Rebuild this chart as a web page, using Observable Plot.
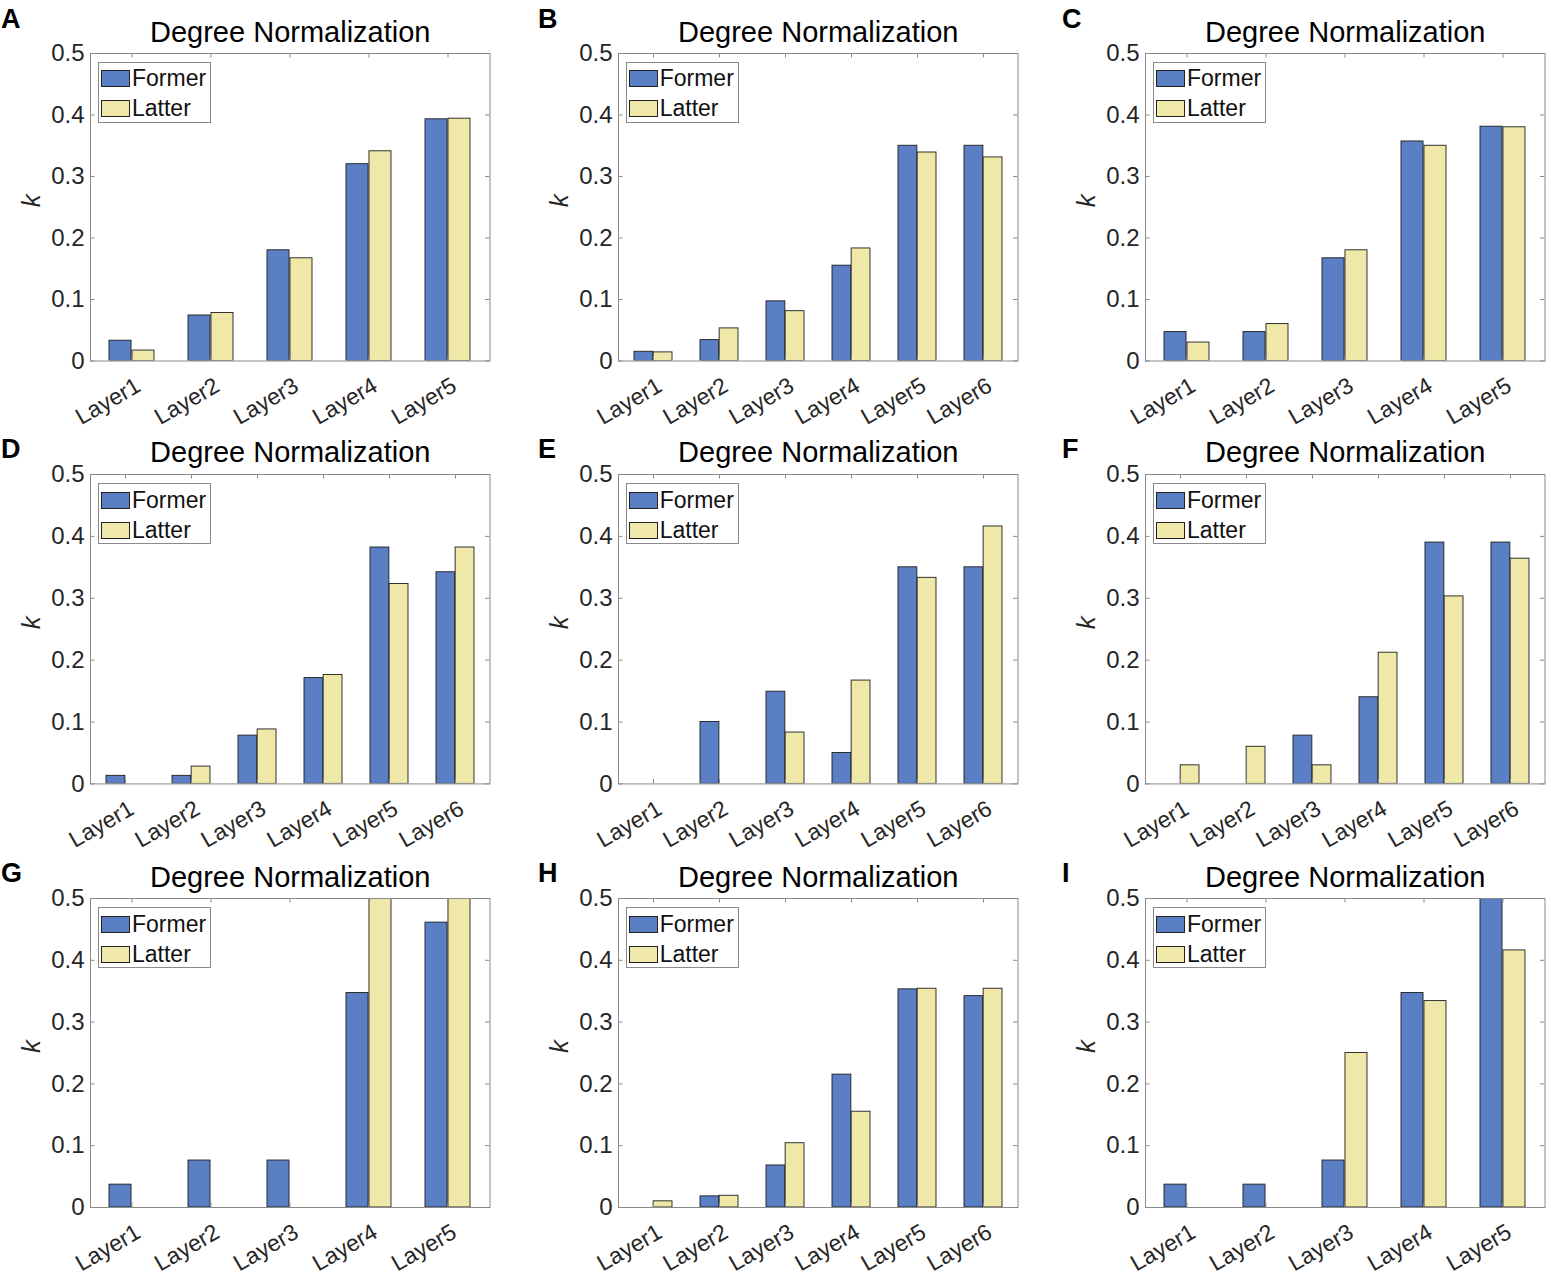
<!DOCTYPE html>
<html>
<head>
<meta charset="utf-8">
<script src="https://cdn.jsdelivr.net/npm/d3@7"></script>
<script src="https://cdn.jsdelivr.net/npm/@observablehq/plot@0.6"></script>
<style>
  html, body { margin: 0; padding: 0; background: #fff; }
  body { font-family: "Liberation Sans", Arial, Helvetica, sans-serif; color: #262626; }
  #root { position: relative; width: 1551px; height: 1280px; overflow: hidden; }
  .panel { position: absolute; }
  .panel svg { max-width: none !important; }
  .letter { position: absolute; font-weight: bold; font-size: 27px; line-height: 1; color: #000; }
  .legend { position: absolute; box-sizing: border-box; border: 1px solid #8a8a8a; background: #fff;
            width: 113px; height: 61px; font-size: 23px; color: #111; }
  .legend .row { position: absolute; left: 2px; display: flex; align-items: center; height: 20px; }
  .legend .sw { width: 29px; height: 17px; box-sizing: border-box; border: 1px solid #222; margin-right: 2px; }
</style>
</head>
<body>
<div id="root"></div>
<script>
// ---- data ----
const panelLetters = ["A", "B", "C", "D", "E", "F", "G", "H", "I"];
const layerNames = ["Layer1", "Layer2", "Layer3", "Layer4", "Layer5", "Layer6"];
const seriesNames = ["Former", "Latter"];
const titleText = "Degree Normalization";
const yLabel = "k";
const yTicks = [0, 0.1, 0.2, 0.3, 0.4, 0.5];

const formerA = [0.033, 0.074, 0.180, 0.320, 0.393];
const latterA = [0.017, 0.078, 0.167, 0.341, 0.394];
const formerB = [0.015, 0.034, 0.097, 0.155, 0.350, 0.350];
const latterB = [0.014, 0.053, 0.081, 0.183, 0.339, 0.331];
const formerC = [0.047, 0.047, 0.167, 0.357, 0.381];
const latterC = [0.030, 0.060, 0.180, 0.350, 0.380];
const formerD = [0.013, 0.013, 0.078, 0.171, 0.382, 0.342];
const latterD = [0, 0.028, 0.088, 0.176, 0.323, 0.382];
const formerE = [0, 0.100, 0.149, 0.050, 0.350, 0.350];
const latterE = [0, 0, 0.083, 0.167, 0.333, 0.416];
const formerF = [0, 0, 0.078, 0.140, 0.390, 0.390];
const latterF = [0.030, 0.060, 0.030, 0.212, 0.303, 0.364];
const formerG = [0.037, 0.076, 0.076, 0.347, 0.461];
const latterG = [0, 0, 0, 0.5, 0.5];
const formerH = [0, 0.018, 0.068, 0.215, 0.353, 0.342];
const latterH = [0.010, 0.019, 0.104, 0.155, 0.354, 0.354];
const formerI = [0.037, 0.037, 0.076, 0.347, 0.5];
const latterI = [0, 0, 0.250, 0.334, 0.416];

const formers = [formerA, formerB, formerC, formerD, formerE, formerF, formerG, formerH, formerI];
const latters = [latterA, latterB, latterC, latterD, latterE, latterF, latterG, latterH, latterI];

// ---- style / layout ----
const colFormer = "#5b7fc4";
const colLatter = "#efe8a8";
const axisGray = "#8a8a8a";
const plotLefts = [90, 617.7, 1145];
const plotTops = [52.7, 474.3, 898.3];
const plotHeights = [307.5, 309.4, 309];
const plotW = 399.5;
const letterLefts = [1, 538, 1062];
const letterTops = [6, 436, 860];
const mL = 75, mR = 5, mT = 52, mB = 68;

const root = document.getElementById("root");

function makePanel(idx) {
  const r = Math.floor(idx / 3), c = idx % 3;
  const former = formers[idx], latter = latters[idx];
  const layers = layerNames.slice(0, former.length);
  const rows = [];
  layers.forEach((l, i) => {
    rows.push({layer: l, series: seriesNames[0], k: former[i]});
    rows.push({layer: l, series: seriesNames[1], k: latter[i]});
  });
  const H = plotHeights[r];
  const step = plotW / layers.length;
  const pIn = 0.425;
  const half = step * (1 - pIn) / 2;
  const tl = 4.5;

  const chart = Plot.plot({
    width: plotW + mL + mR,
    height: H + mT + mB,
    marginLeft: mL, marginRight: mR, marginTop: mT, marginBottom: mB,
    style: {background: "transparent", overflow: "visible", maxWidth: "none",
            fontFamily: "'Liberation Sans', Arial, sans-serif", fontSize: "24px", color: "#262626"},
    x: {type: "band", domain: layers, paddingInner: pIn, paddingOuter: pIn / 2, align: 0.5, axis: null},
    y: {domain: [0, 0.5], ticks: yTicks, tickSize: 0, tickPadding: 6, label: null,
        tickFormat: d => String(+d.toFixed(1))},
    marks: [
      Plot.barY(rows.filter(d => d.series === "Former" && d.k > 0),
        {x: "layer", y: "k", fill: colFormer, stroke: "#1e1e1e", strokeWidth: 0.9, insetRight: half, clip: true}),
      Plot.barY(rows.filter(d => d.series === "Latter" && d.k > 0),
        {x: "layer", y: "k", fill: colLatter, stroke: "#1e1e1e", strokeWidth: 0.9, insetLeft: half, clip: true}),
      Plot.frame({stroke: axisGray, strokeWidth: 1}),
      Plot.tickY(yTicks, {y: d => d, stroke: axisGray, insetRight: plotW - tl}),
      Plot.tickY(yTicks, {y: d => d, stroke: axisGray, insetLeft: plotW - tl}),
      Plot.tickX(layers, {x: d => d, stroke: axisGray, insetTop: H - tl}),
      Plot.tickX(layers, {x: d => d, stroke: axisGray, insetBottom: H - tl}),
      // rotated category labels
      Plot.text(layers, {x: d => d, frameAnchor: "bottom", textAnchor: "end", lineAnchor: "top",
        rotate: -30, dx: 2, dy: 15, fontSize: 23, fill: "#262626"}),
      Plot.text([titleText], {frameAnchor: "top", dy: -12, lineAnchor: "bottom", fontSize: 29, fill: "#000"}),
      Plot.text([yLabel], {frameAnchor: "left", dx: -59, rotate: -90, fontSize: 26, fontStyle: "italic", fill: "#262626"})
    ]
  });

  const div = document.createElement("div");
  div.className = "panel";
  div.style.left = (plotLefts[c] - mL) + "px";
  div.style.top = (plotTops[r] - mT) + "px";
  div.style.width = (plotW + mL + mR) + "px";
  div.appendChild(chart);
  root.appendChild(div);

  // legend (HTML overlay inside the plot area)
  const lg = document.createElement("div");
  lg.className = "legend";
  lg.style.left = (plotLefts[c] + 8) + "px";
  lg.style.top = (plotTops[r] + 9) + "px";
  [[seriesNames[0], colFormer, 6], [seriesNames[1], colLatter, 36]].forEach(([name, col, top]) => {
    const row = document.createElement("div");
    row.className = "row";
    row.style.top = top + "px";
    const sw = document.createElement("div");
    sw.className = "sw";
    sw.style.background = col;
    const tx = document.createElement("span");
    tx.textContent = name;
    row.appendChild(sw); row.appendChild(tx);
    lg.appendChild(row);
  });
  root.appendChild(lg);

  const lt = document.createElement("div");
  lt.className = "letter";
  lt.textContent = panelLetters[idx];
  lt.style.left = letterLefts[c] + "px";
  lt.style.top = letterTops[r] + "px";
  root.appendChild(lt);
}

for (let i = 0; i < 9; i++) makePanel(i);
</script>
</body>
</html>
